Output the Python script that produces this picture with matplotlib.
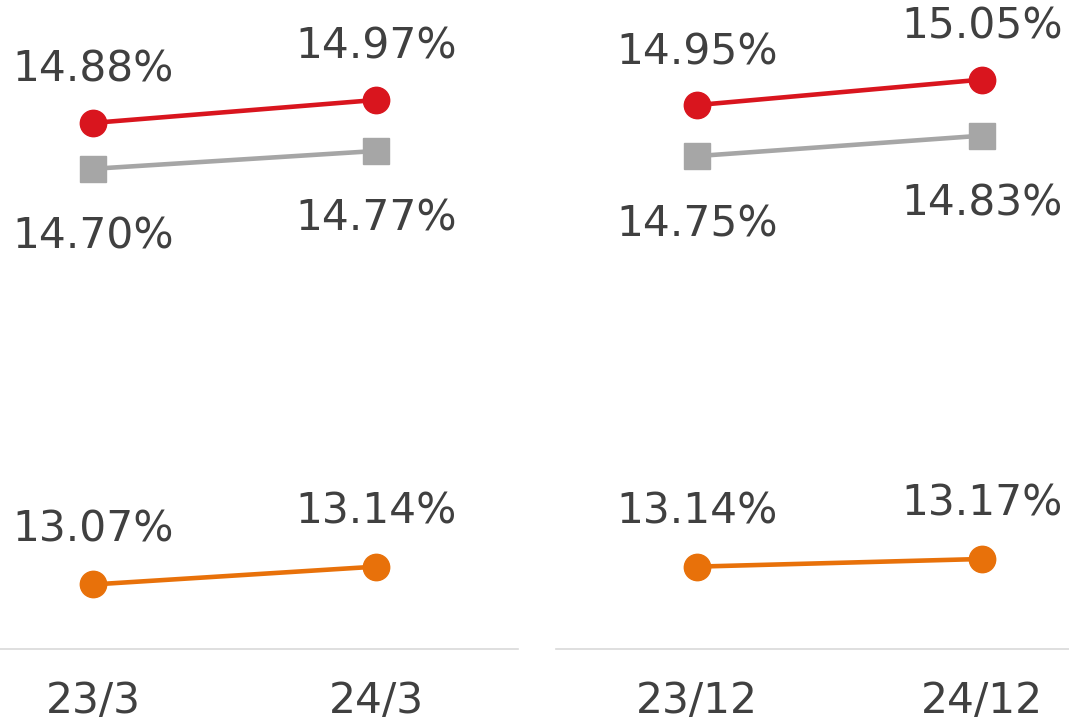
import matplotlib
matplotlib.use("Agg")
import matplotlib.pyplot as plt

periods_left = ["23/3", "24/3"]
periods_right = ["23/12", "24/12"]
red_left = [14.88, 14.97]
gray_left = [14.70, 14.77]
orange_left = [13.07, 13.14]
red_right = [14.95, 15.05]
gray_right = [14.75, 14.83]
orange_right = [13.14, 13.17]

RED = "#D9151E"
GRAY = "#A6A6A6"
ORANGE = "#E8710A"
TXT = "#404040"
FS = 30.5

fig = plt.figure(figsize=(10.69, 7.21), dpi=100)
W, H = 1069, 721
ax_l = fig.add_axes([0 / W, (H - 649) / H, 518 / W, 649 / H])
ax_r = fig.add_axes([556 / W, (H - 649) / H, 513 / W, 649 / H])

def px(p):
    return p * 72 / 100

def draw(ax, cats, red, gray, orange, xlim):
    x = list(range(len(cats)))
    ax.plot(x, red, color=RED, lw=3.3, marker="o", ms=19, zorder=3)
    ax.plot(x, gray, color=GRAY, lw=3.3, marker="s", ms=19, zorder=2)
    ax.plot(x, orange, color=ORANGE, lw=3.3, marker="o", ms=19, zorder=3)
    for xi, v in zip(x, red):
        ax.annotate(f"{v:.2f}%", (xi, v), xytext=(0, px(41)), textcoords="offset points",
                    ha="center", va="baseline", fontsize=FS, color=TXT)
    for xi, v in zip(x, gray):
        ax.annotate(f"{v:.2f}%", (xi, v), xytext=(0, -px(80)), textcoords="offset points",
                    ha="center", va="baseline", fontsize=FS, color=TXT)
    for xi, v in zip(x, orange):
        ax.annotate(f"{v:.2f}%", (xi, v), xytext=(0, px(43)), textcoords="offset points",
                    ha="center", va="baseline", fontsize=FS, color=TXT)
    ax.set_xlim(*xlim)
    ax.set_ylim(12.817, 15.362)
    ax.set_xticks(x)
    ax.set_xticklabels(cats, fontsize=FS, color=TXT)
    ax.tick_params(axis="x", length=0, pad=px(31))
    ax.set_yticks([])
    for s in ["top", "left", "right"]:
        ax.spines[s].set_visible(False)
    ax.spines["bottom"].set_color("#D9D9D9")
    ax.spines["bottom"].set_linewidth(1.2)
    ax.patch.set_alpha(0)

draw(ax_l, periods_left, red_left, gray_left, orange_left, (-0.3286, 1.502))
draw(ax_r, periods_right, red_right, gray_right, orange_right, (-0.495, 1.305))

fig.savefig("out.png", dpi=100)
